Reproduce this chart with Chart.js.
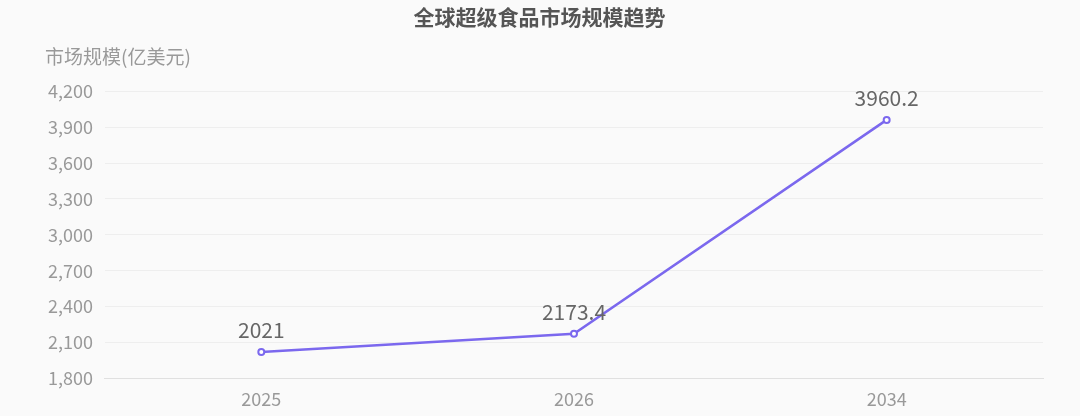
<!DOCTYPE html>
<html><head><meta charset="utf-8">
<script src="https://cdn.jsdelivr.net/npm/chart.js@4"></script>
<style>html,body{margin:0;padding:0;background:#fafafa;}canvas{display:block;}</style>
</head><body>
<canvas id="c" width="1080" height="416"></canvas>
<script>
const categories = ['2025', '2026', '2034'];
const marketSize = [2021, 2173.4, 3960.2];
const valueLabels = ['2021', '2173.4', '3960.2'];
const chartTitle = '全球超级食品市场规模趋势';
const yAxisTitle = '市场规模(亿美元)';
const FONT = "'Noto Sans CJK SC', 'Noto Sans', sans-serif";

const extras = {
  id: 'extras',
  afterDatasetsDraw(chart) {
    const ctx = chart.ctx;
    const meta = chart.getDatasetMeta(0);
    ctx.save();
    ctx.fillStyle = '#666';
    ctx.font = '21px ' + FONT;
    ctx.textAlign = 'center';
    ctx.textBaseline = 'alphabetic';
    meta.data.forEach((pt, i) => {
      ctx.fillText(valueLabels[i], pt.x, pt.y - 14);
    });
    ctx.fillStyle = '#999';
    ctx.font = '19px ' + FONT;
    ctx.textAlign = 'left';
    ctx.textBaseline = 'middle';
    ctx.fillText(yAxisTitle, 45, 57);
    ctx.restore();
  }
};

new Chart(document.getElementById('c'), {
  type: 'line',
  data: {
    labels: categories,
    datasets: [{
      data: marketSize,
      borderColor: '#7b68ee',
      borderWidth: 2.5,
      pointRadius: 3,
      pointBorderWidth: 2,
      pointBackgroundColor: '#fff',
      pointBorderColor: '#7b68ee',
      tension: 0,
      fill: false
    }]
  },
  options: {
    responsive: false,
    animation: false,
    devicePixelRatio: 1,
    layout: { padding: { top: 0, left: 36, right: 37, bottom: -4 } },
    plugins: {
      legend: { display: false },
      tooltip: { enabled: false },
      title: {
        display: true, text: chartTitle, color: '#555',
        font: { family: FONT, size: 21, weight: 'bold' },
        padding: { top: 4, bottom: 62 }
      }
    },
    scales: {
      x: {
        offset: true,
        grid: { display: false, drawTicks: false },
        border: { color: '#e0e0e0', width: 1 },
        ticks: { color: '#999', font: { family: FONT, size: 18 }, padding: 10 }
      },
      y: {
        min: 1800, max: 4200,
        ticks: { stepSize: 300, color: '#999', font: { family: FONT, size: 18 }, padding: 12,
          callback: v => v.toLocaleString('en-US') },
        grid: { color: '#eeeeee', drawTicks: false },
        border: { display: false }
      }
    }
  },
  plugins: [extras]
});
</script>
</body></html>
